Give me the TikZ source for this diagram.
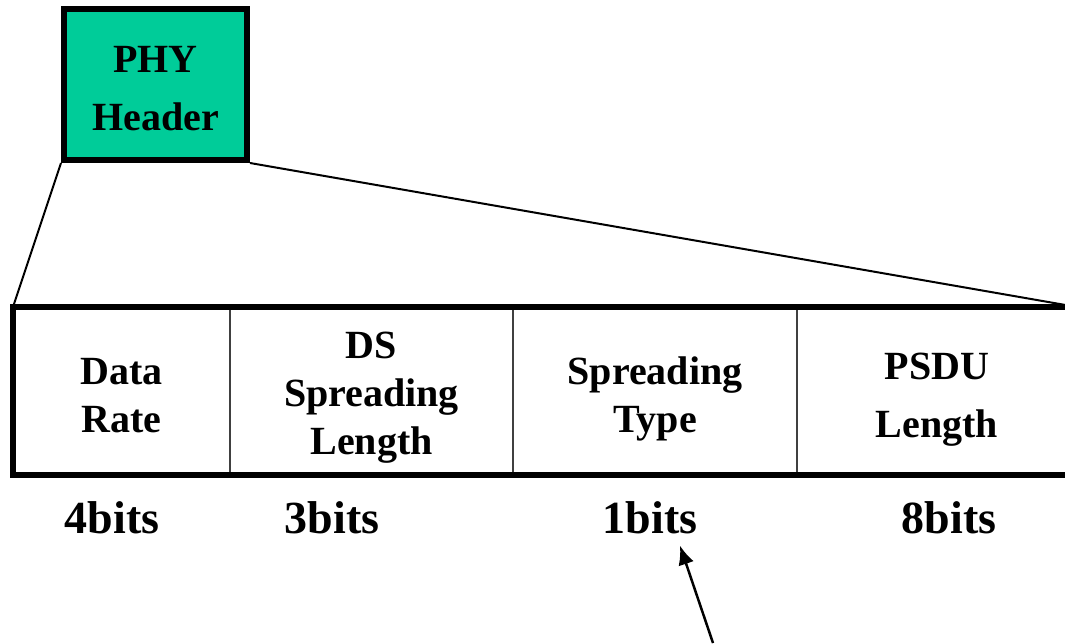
\documentclass[tikz,border=0pt]{standalone}
\usepackage{fontspec}
\setmainfont{Liberation Serif}
\usetikzlibrary{arrows.meta,positioning}
\definecolor{phygreen}{RGB}{0,204,153}

\begin{document}
\begin{tikzpicture}[x=1pt,y=-1pt,>={Latex[length=19pt,width=16pt]},
    lbl/.style={font=\fontsize{40}{48}\selectfont\bfseries,align=center,inner sep=0pt},
    cell/.style={minimum height=168pt,inner sep=0pt,outer sep=0pt},
    bits/.style={font=\fontsize{46}{50}\selectfont\bfseries,inner sep=0pt,anchor=base}]

        \useasboundingbox (0,0) rectangle (1065,643);

        \node[draw,line width=6pt,fill=phygreen,minimum width=183pt,minimum height=151pt] (phy) at (155.5,84.5) {};
        \node[lbl] (phytext) at ([yshift=-4pt]phy.center) {PHY\\[10pt]Header};

        % fields
        \node[cell,minimum width=217pt] (d1) at (121.5,391) {};
        \node[cell,minimum width=283pt] (d2) at (371.5,391) {};
        \node[cell,minimum width=284pt] (d3) at (655,391) {};
        \node[cell,minimum width=280pt] (d4) at (937,391) {};

        \node[lbl] (t1) at ([yshift=-5pt]d1.center) {Data\\Rate};
        \node[lbl] (t2) at ([yshift=-7pt]d2.center) {DS\\Spreading\\Length};
        \node[lbl] (t3) at ([yshift=-8pt]d3.center) {Spreading\\Type};
        \node[lbl] (t4) at ([yshift=-9pt]d4.center) {PSDU\\[10pt]Length};

        \node[bits] (b1) at (112,533) {4bits};
        \node[bits] (b2) at (332,533) {3bits};
        \node[bits] (b3) at (650,533) {1bits};
        \node[bits] (b4) at (949,533) {8bits};

        \coordinate (tail) at (713,643);

        % frame of the fields
        \foreach \c in {d1,d2,d3}
            \draw[line width=1.5pt,black!75] (\c.north east) -- (\c.south east);
        \draw[line width=6pt] (d4.north east) -- (d1.north west) -- (d1.south west) -- (d4.south east);

        \draw[line width=2pt] (phy.south west) -- (d1.north west);
        \draw[line width=2pt] (phy.south east) -- (d4.north east);

        \draw[->,line width=2.5pt] (tail) -- ([xshift=30pt,yshift=-12pt]b3.south);

\end{tikzpicture}
\end{document}
